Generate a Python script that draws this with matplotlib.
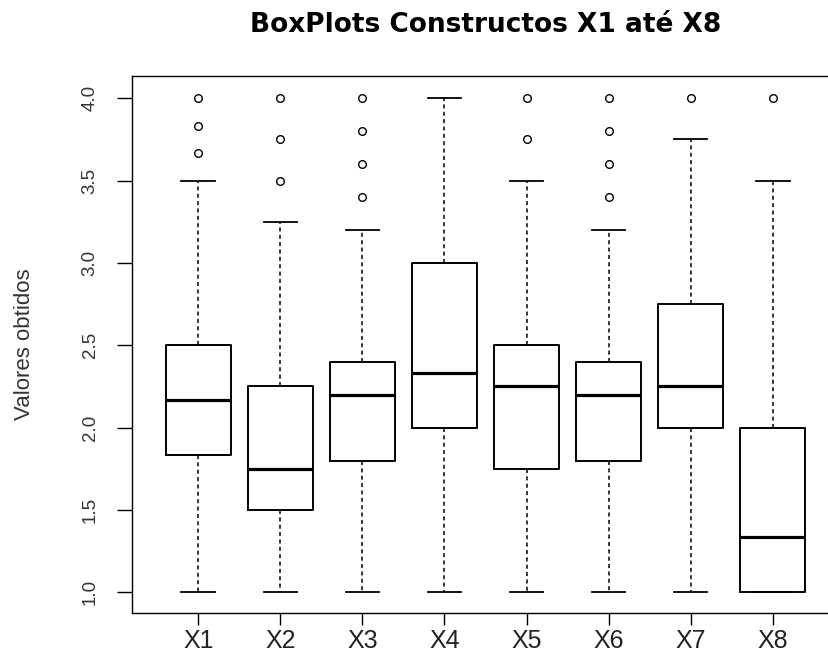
import matplotlib
matplotlib.use("Agg")
import matplotlib.pyplot as plt
from matplotlib import font_manager

# ---- data ----
categories = ["X1", "X2", "X3", "X4", "X5", "X6", "X7", "X8"]
whisker_low = [1.0, 1.0, 1.0, 1.0, 1.0, 1.0, 1.0, 1.0]
q1 = [1.833, 1.5, 1.8, 2.0, 1.75, 1.8, 2.0, 1.0]
median = [2.167, 1.75, 2.2, 2.333, 2.25, 2.2, 2.25, 1.333]
q3 = [2.5, 2.25, 2.4, 3.0, 2.5, 2.4, 2.75, 2.0]
whisker_high = [3.5, 3.25, 3.2, 4.0, 3.5, 3.2, 3.75, 3.5]
outliers = [
    [4.0, 3.833, 3.667],
    [4.0, 3.75, 3.5],
    [4.0, 3.8, 3.6, 3.4],
    [],
    [4.0, 3.75],
    [4.0, 3.8, 3.6, 3.4],
    [4.0],
    [4.0],
]
y_ticks = [1.0, 1.5, 2.0, 2.5, 3.0, 3.5, 4.0]
title = "BoxPlots Constructos X1 até X8"
ylabel = "Valores obtidos"

names = {f.name for f in font_manager.fontManager.ttflist}
narrow = "Liberation Sans Narrow" if "Liberation Sans Narrow" in names else "Liberation Sans"

plt.rcParams["lines.scale_dashes"] = False

W, H = 829, 657
fig = plt.figure(figsize=(W / 100, H / 100), dpi=100)
left, right, top, bottom = 132, 840, 76, 613.3
ax = fig.add_axes([left / W, 1 - bottom / H, (right - left) / W, (bottom - top) / H])

stats = []
for i, c in enumerate(categories):
    stats.append(dict(label=c, whislo=whisker_low[i], q1=q1[i], med=median[i],
                      q3=q3[i], whishi=whisker_high[i], fliers=outliers[i]))

positions = list(range(1, len(categories) + 1))
ax.bxp(stats, positions=positions, widths=0.79, capwidths=0.41, patch_artist=False,
       boxprops=dict(color="black", linewidth=1.4),
       medianprops=dict(color="black", linewidth=2.3, solid_capstyle="butt"),
       whiskerprops=dict(color="black", linewidth=1.1, linestyle=(0, (2.9, 2.4))),
       capprops=dict(color="black", linewidth=1.3),
       flierprops=dict(marker="o", markerfacecolor="none", markeredgecolor="black",
                       markersize=5.5, markeredgewidth=1.0, linestyle="none"))

ax.set_xlim(0.192, 8.82)
ax.set_ylim(0.8725, 4.135)

for s in ["left", "bottom", "top", "right"]:
    ax.spines[s].set_linewidth(1.0)
    ax.spines[s].set_color("black")

ax.set_xticks(positions)
ax.set_xticklabels(categories, fontfamily=narrow, fontsize=18, color="#222222")
ax.tick_params(axis="x", length=8.6, width=1.0, pad=2.5, color="black")

ax.set_yticks(y_ticks)
ax.set_yticklabels([f"{v:.1f}" for v in y_ticks], fontfamily="Liberation Sans",
                   fontsize=13.5, color="#333333", rotation=90, va="center")
ax.tick_params(axis="y", length=10.8, width=1.0, pad=13.2, color="black")

ax.set_ylabel(ylabel, fontfamily="Liberation Sans", fontsize=16, color="#333333")
ax.yaxis.label.set_va("center")
ax.yaxis.set_label_coords((25 - left) / (right - left), 0.5)

fig.text((left + right) / 2 / W, 1 - 32 / H, title, ha="center", va="baseline",
         fontfamily="DejaVu Sans", fontweight="bold", fontsize=19, color="black")

fig.savefig("out.png", dpi=100, facecolor="white")
